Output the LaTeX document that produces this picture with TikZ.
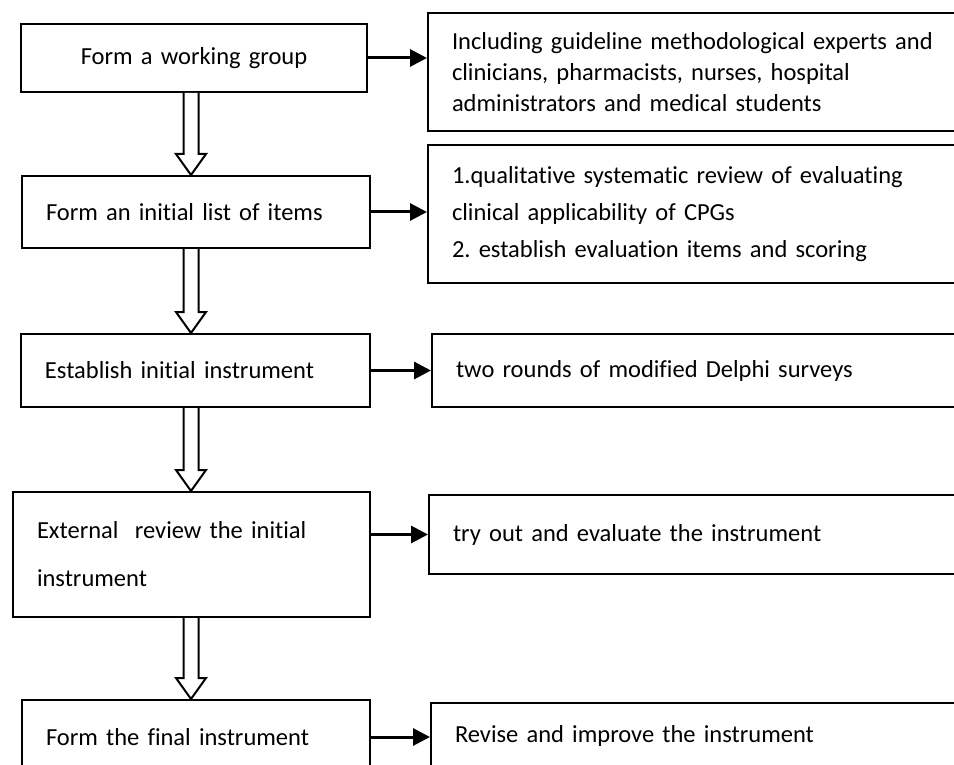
\documentclass[tikz,border=0pt]{standalone}
\usepackage{fontspec}
\setmainfont{Carlito}[Ligatures=NoCommon, WordSpace=0.85]
\frenchspacing
\usetikzlibrary{arrows.meta,calc}

% hollow down arrow between two stacked boxes, centred on x=191
\newcommand{\hollowdown}[2]{%
  \draw[hollowarrow]
    ($(191,0 |- #1.south)+(-7.5,0)$) -- ($(191,0 |- #2.north)+(-7.5,-21)$)
    -- ++(-7.5,0) -- (191,0 |- #2.north) -- ++(15,-21) -- ++(-7.5,0)
    -- ($(191,0 |- #1.south)+(7.5,0)$);}

\begin{document}
\begin{tikzpicture}[x=1pt, y=-1pt,
    stepbox/.style={draw, line width=2pt, anchor=north west, inner xsep=24pt,
      inner ysep=0pt, align=left, font={\fontsize{24.5}{31}\selectfont}},
    notebox/.style={stepbox, minimum width=560pt, text width=512pt},
    flowarrow/.style={line width=3pt, -{Triangle[length=17pt,width=17pt]}},
    hollowarrow/.style={draw, fill=white, line width=2pt, line join=miter}]
  \clip (0,0) rectangle (954,765);
  % steps on the left
  \node[stepbox, align=center, minimum width=346pt, minimum height=68pt, text width=298pt]
    (form) at (20,23) {Form a working group};
  \node[stepbox, minimum width=348pt, minimum height=72pt, text width=300pt]
    (list) at (21,175) {Form an initial list of items};
  \node[stepbox, minimum width=349pt, minimum height=73pt, text width=301pt]
    (estab) at (20,333) {Establish initial instrument};
  \node[stepbox, minimum width=357pt, minimum height=125pt, text width=309pt,
    font={\fontsize{24.5}{48}\selectfont}]
    (ext) at (12,491) {External~ review the initial\\instrument};
  \node[stepbox, minimum width=348pt, minimum height=74pt, text width=300pt]
    (final) at (21,699) {Form the final instrument};
  % notes on the right
  \node[notebox, minimum height=118pt] (rgroup) at (427,12)
    {Including guideline methodological experts and\\clinicians, pharmacists, nurses, hospital\\administrators and medical students};
  \node[notebox, minimum height=138pt, font={\fontsize{24.5}{37}\selectfont}] (rlist) at (427,144)
    {1.qualitative systematic review of evaluating\\clinical applicability of CPGs\\2. establish evaluation items and scoring};
  \node[notebox, minimum height=73pt] (rdelphi) at (431,333) {two rounds of modified Delphi surveys};
  \node[notebox, minimum height=79pt] (rtry) at (428,494) {try out and evaluate the instrument};
  \node[notebox, minimum height=66pt] (rrevise) at (430,702) {Revise and improve the instrument};
  % hollow arrows down the steps
  \hollowdown{form}{list}
  \hollowdown{list}{estab}
  \hollowdown{estab}{ext}
  \hollowdown{ext}{final}
  % arrows to the notes
  \draw[flowarrow] (form.east) -- (form.east -| rgroup.west);
  \draw[flowarrow] (list.east) -- (list.east -| rlist.west);
  \draw[flowarrow] (estab.east) -- (estab.east -| rdelphi.west);
  \draw[flowarrow] (rtry.west -| ext.east) -- (rtry.west);
  \draw[flowarrow] (final.east) -- (final.east -| rrevise.west);
\end{tikzpicture}
\end{document}
